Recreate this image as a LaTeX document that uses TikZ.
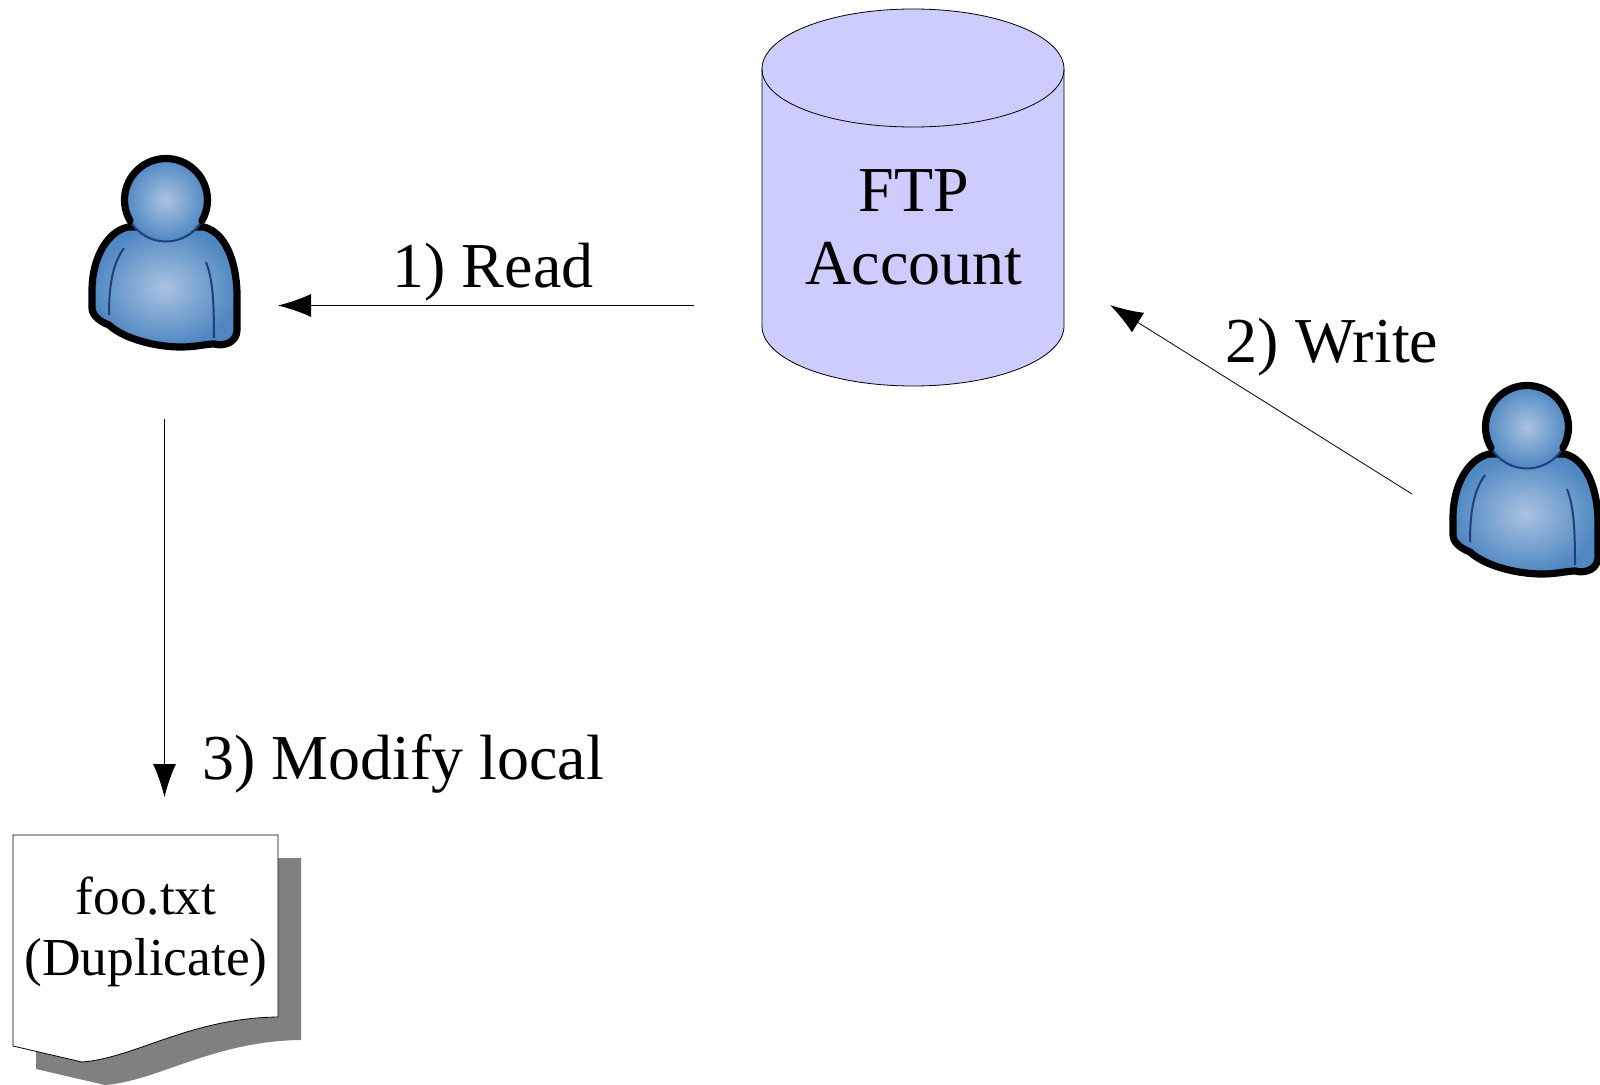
\documentclass[tikz,border=0pt]{standalone}
\usepackage{fontspec}
\setmainfont{Liberation Serif}
\usetikzlibrary{arrows.meta}
\definecolor{cylfill}{HTML}{CCCCFF}
\definecolor{shadowgray}{HTML}{808080}
\definecolor{personin}{HTML}{A9C3E0}
\definecolor{personout}{HTML}{4F87C2}
\definecolor{persondark}{HTML}{1F3F78}
\tikzset{
  flow/.style={line width=0.4pt,-{Latex[length=16.5pt,width=11.5pt]}},
  biglabel/.style={font=\fontsize{32}{36.5}\selectfont,inner sep=0pt,anchor=base},
  doclabel/.style={font=\fontsize{26.7}{30}\selectfont,inner sep=0pt,anchor=base},
  thinline/.style={line width=0.4pt,draw=black},
  person/.pic={
    \path[draw=black,line width=3.6pt,line join=round,inner color=personin,outer color=personout]
      (-38,27) .. controls (-60,32) and (-74,60) .. (-74,90)
      -- (-74,108) .. controls (-74,116) and (-65,122) .. (-57,125)
      .. controls (-42,139) and (-10,147) .. (15,147)
      .. controls (30,147) and (40,144) .. (48,144)
      .. controls (60,147) and (71,141) .. (71,130)
      -- (71,92) .. controls (70,62) and (60,33) .. (38,27) -- cycle;
    \draw[persondark,line width=1pt] (-42,48) .. controls (-52,62) and (-57,80) .. (-57,115);
    \draw[persondark,line width=1pt] (40,62) .. controls (46,78) and (48,95) .. (48,138);
    \path[inner color=personin,outer color=personout] (0,0) circle (41.5);
    \draw[persondark,line width=1pt] (30:41.5) arc (30:150:41.5);
    \draw[black,line width=3.6pt,line cap=round] (150:41.5) arc (150:390:41.5);
  }
}
\begin{document}
\begin{tikzpicture}[x=0.5pt,y=-0.5pt]
\useasboundingbox (0,0) rectangle (1600,1085);
% cylinder
\path[thinline,fill=cylfill] (762,69) .. controls (762,36) and (829,9) .. (913,9)
  .. controls (997,9) and (1064,36) .. (1064,69) -- (1064,326)
  .. controls (1064,359) and (997,386) .. (913,386)
  .. controls (829,386) and (762,359) .. (762,326) -- cycle;
\draw[thinline] (762,69) .. controls (762,102) and (829,127) .. (913,127)
  .. controls (997,127) and (1064,102) .. (1064,69);
\node[biglabel] (ftp) at (914,212) {FTP};
\node[biglabel] (account) at (914,285) {Account};
% persons
\pic at (166,200) {person};
\pic at (1527,427) {person};
% document
\path[fill=shadowgray] (36,858) -- (301,858) -- (301,1040)
  .. controls (213,1041) and (158,1081) .. (105,1085)
  -- (36,1069) -- cycle;
\path[thinline,fill=white] (13,835) -- (278,835) -- (278,1017)
  .. controls (190,1018) and (135,1058) .. (82,1062)
  -- (13,1046) -- cycle;
\node[doclabel] (foo) at (146,914) {foo.txt};
\node[doclabel] (dup) at (146,975) {(Duplicate)};
% labels
\node[biglabel] (read) at (493,288) {1) Read};
\node[biglabel] (write) at (1332,363) {2) Write};
\node[biglabel] (modify) at (403,779) {3) Modify local};
% connectors
\coordinate (a1s) at (694,305.5);
\coordinate (a1e) at (278,305.5);
\coordinate (a2s) at (1412,494);
\coordinate (a2e) at (1110,305);
\coordinate (a3s) at (164.5,419);
\coordinate (a3e) at (164.5,797);
\draw[flow] (a1s) -- (a1e);
\draw[flow] (a2s) -- (a2e);
\draw[flow] (a3s) -- (a3e);
\end{tikzpicture}
\end{document}
